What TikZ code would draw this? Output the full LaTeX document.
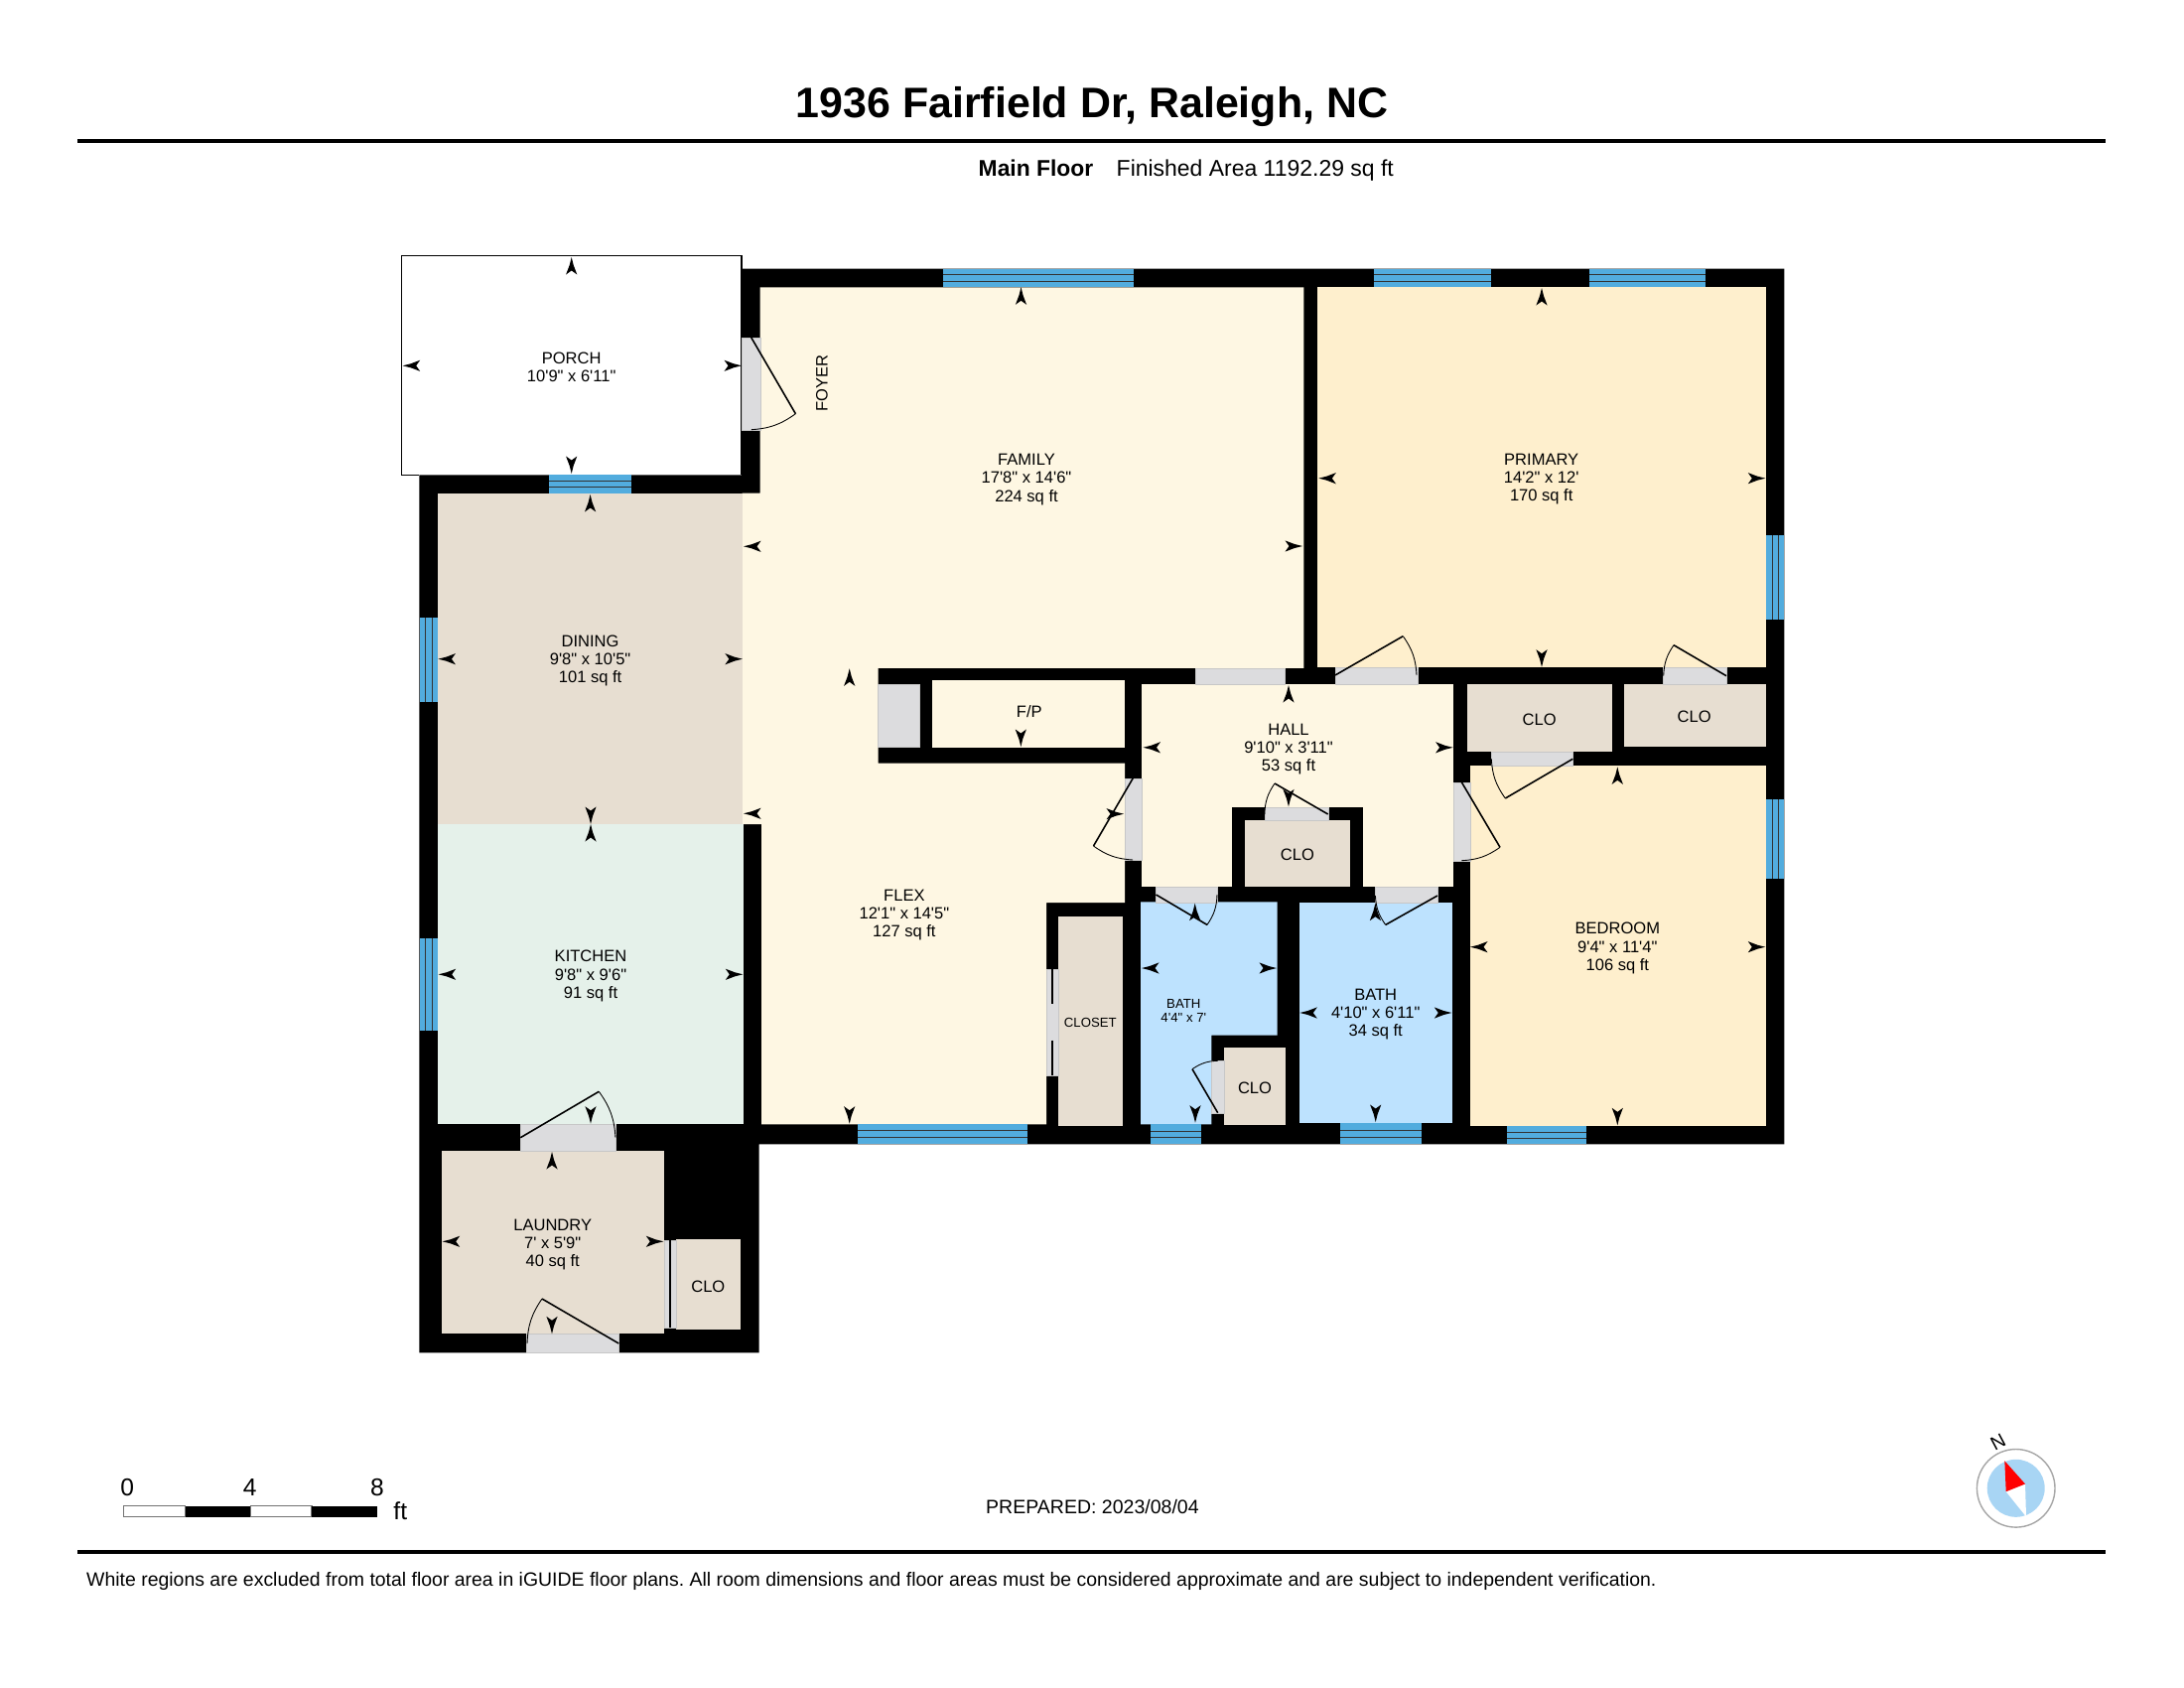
\documentclass[tikz,border=0pt]{standalone}
\usepackage{fontspec}
\newfontfamily\planfont{Liberation Sans}

\definecolor{livingFloor}{HTML}{FEF7E3}
\definecolor{bedFloor}{HTML}{FEEFCD}
\definecolor{utilFloor}{HTML}{E7DED1}
\definecolor{kitchenFloor}{HTML}{E5F1EA}
\definecolor{bathFloor}{HTML}{BDE2FE}
\definecolor{doorGrey}{HTML}{DCDCDE}
\definecolor{glassBlue}{HTML}{52ACDE}
\definecolor{compassBlue}{HTML}{A8D5F4}

\def\tipHalf{5.6}
\def\tipLong{17.5}
\def\tipNotch{13.5}

\tikzset{
    roomlabel/.style = {font = \planfont\fontsize{4.7}{5.15}\selectfont, align = center, inner sep = 0, yshift = -0.02cm},
    smalllabel/.style = {font = \planfont\fontsize{3.75}{4.2}\selectfont, align = center, inner sep = 0, yshift = -0.015cm},
    pagelabel/.style = {font = \planfont\frenchspacing\fontsize{5.55}{6.5}\selectfont, anchor = base west, inner sep = 0},
    doorgap/.style = {fill = doorGrey, draw = black!22, line width = 0.1pt},
    doorleaf/.style = {line width = 0.45pt},
    doorarc/.style = {line width = 0.25pt},
    glassline/.style = {draw = black!80, line width = 0.25pt},
}

\newcommand{\swingDoor}[4]{
    \draw [doorleaf] #1 -- #2;
    \draw [doorarc] #2 to [#4 = 16] #3;
}

\begin{document}
\begin{tikzpicture}[x = 0.01cm, y = -0.01cm]
    \useasboundingbox (0,0) rectangle (2200,1700);

    %% heading
    \node (titlename) [font = \planfont\bfseries\fontsize{12.2}{14}\selectfont, inner sep = 0] at (1100,107.5) {1936 Fairfield Dr, Raleigh, NC};
    \draw [line width = 1.15pt] (78,142) coordinate (headleft) -- (2121,142) coordinate (headright);
    \node (floorname) [font = \planfont\bfseries\fontsize{6.5}{8}\selectfont, anchor = base west, inner sep = 0] at (985,177.5) {Main Floor};
    \node (floorarea) [font = \planfont\fontsize{6.53}{8}\selectfont, anchor = base west, inner sep = 0] at (1124,177.5) {Finished Area 1192.29 sq ft};

    %% porch
    \draw [line width = 0.4pt] (422.3,478.3) -- (404.3,478.3) -- (404.3,257.3) -- (747,257.3) -- (747,478.3);

    %% wall mass
    \fill (747,270.7) -- (1797.3,270.7) -- (1797.3,1152.3) -- (764.7,1152.3)
    -- (764.7,1362.3) -- (422.3,1362.3) -- (422.3,478.3) -- (747,478.3) -- cycle;

    %% floors
    \fill [livingFloor] (765.7,289.3) -- (1313.3,289.3) -- (1313.3,672.8) -- (884.6,672.8)
    -- (884.6,768.6) -- (1133.2,768.6) -- (1133.2,909) -- (1054,909) -- (1054,1132.3)
    -- (767,1132.3) -- (767,830) -- (747.5,830) -- (747.5,496.7) -- (765.7,496.7) -- cycle;
    \fill [livingFloor] (938.6,684.8) rectangle (1133.2,752.8);
    \fill [livingFloor] (1150.2,689) rectangle (1464,893.4);
    \fill [bedFloor] (1327.3,289.3) rectangle (1779,672.3);
    \fill [bedFloor] (1480.7,771.3) rectangle (1779,1134);
    \fill [utilFloor] (441.4,496.7) rectangle (747.5,830);
    \fill [kitchenFloor] (441.4,830) rectangle (748.7,1132.3);
    \fill [utilFloor] (445,1159.3) rectangle (668.7,1343.3);
    \fill [utilFloor] (681,1248.3) rectangle (746,1339.3);
    \fill [utilFloor] (1066.3,922.7) rectangle (1131.3,1134);
    \fill [bathFloor] (1149,908.3) -- (1286.7,908.3) -- (1286.7,1042.7) -- (1220.3,1042.7)
    -- (1220.3,1132.3) -- (1149,1132.3) -- cycle;
    \fill [bathFloor] (1308.7,909) rectangle (1463,1130.7);
    \fill [utilFloor] (1233,1055) rectangle (1295,1132.7);
    \fill [utilFloor] (1477.7,689.3) rectangle (1624.3,757.3);
    \fill [utilFloor] (1636,689.3) rectangle (1779,752.3);
    %% closet in hall
    \fill (1240.8,813.4) rectangle (1372.5,893.4);
    \fill [utilFloor] (1254,826.2) rectangle (1360,893.4);

    %% door gaps
    \foreach \xa/\ya/\xb/\yb in {
        747/340/765.7/432.7,
        884.6/689/926/752,
        1203.7/672.8/1294.4/689,
        1345/672.3/1427.7/689,
        1675/672.3/1739/689,
        1133.2/783.8/1150.2/865.9,
        1464/787.7/1480.7/866.7,
        1273.8/813.4/1337.7/826.2,
        1164.5/893.4/1226/909,
        1385.4/893.4/1448/909,
        1502.3/757.3/1584.3/771.3,
        1220.3/1068.3/1233/1120.7,
        1054/975.7/1066.3/1083.3,
        524.3/1132.3/620/1159.3,
        530.3/1343.3/623.3/1362.3,
        668.7/1249.3/681/1337.3%
    } {
        \draw [doorgap] (\xa,\ya) rectangle (\xb,\yb);
    }

    %% sliding doors
    \draw [doorleaf] (1060,975.7) -- (1060,1011) (1060,1047.7) -- (1060,1083.3);
    \draw [line width = 0.5pt] (675,1249.3) -- (675,1337.3);

    %% windows along a wall
    \foreach \xa/\xb/\ya/\yb in {
        950/1142/270.7/289.3,
        1384.3/1501.7/270.7/289.3,
        1601/1718.3/270.7/289.3,
        553/636/478.3/496.7,
        864.3/1035/1132/1152.3,
        1159.3/1209.7/1132.3/1152.3,
        1350/1432.3/1131/1152.3,
        1518/1597.7/1134/1152.3%
    } {
        \fill [glassBlue] (\xa,\ya) rectangle (\xb,\yb);
        \draw [glassline] (\xa,{\ya+(\yb-\ya)/3}) -- (\xb,{\ya+(\yb-\ya)/3})
        (\xa,{\ya+2*(\yb-\ya)/3}) -- (\xb,{\ya+2*(\yb-\ya)/3});
    }
    \foreach \ya/\yb/\xa/\xb in {
        622/707.3/422.7/441.4,
        945/1038.3/422.7/441.4,
        539/624/1779/1797.3,
        805/885/1779/1797.3%
    } {
        \fill [glassBlue] (\xa,\ya) rectangle (\xb,\yb);
        \draw [glassline] ({\xa+(\xb-\xa)/3},\ya) -- ({\xa+(\xb-\xa)/3},\yb)
        ({\xa+2*(\xb-\xa)/3},\ya) -- ({\xa+2*(\xb-\xa)/3},\yb);
    }

    %% swinging doors
    \swingDoor{(756.8,340)}{(801.4,416.7)}{(756.8,432.7)}{bend left}
    \swingDoor{(1141.2,783.8)}{(1101.5,852)}{(1141.2,866)}{bend right}
    \swingDoor{(1345,680)}{(1413.3,640.7)}{(1427,680)}{bend left}
    \swingDoor{(1739,680.7)}{(1686,649.7)}{(1675.7,680.7)}{bend right}
    \swingDoor{(1337.7,820)}{(1284,789)}{(1273.8,820)}{bend right}
    \swingDoor{(1164.5,901)}{(1216,931.4)}{(1226,901)}{bend right}
    \swingDoor{(1448,902)}{(1395.7,931.4)}{(1385.4,902)}{bend left}
    \swingDoor{(1472.3,787.7)}{(1511,853.3)}{(1472.3,866.7)}{bend left}
    \swingDoor{(1584.3,764.3)}{(1516.3,804)}{(1502.3,764.3)}{bend left}
    \swingDoor{(1226.7,1120.7)}{(1201,1076.7)}{(1226.7,1068.3)}{bend left}
    \swingDoor{(524.3,1145.7)}{(603.3,1099.3)}{(620,1145.7)}{bend left}
    \swingDoor{(623.3,1353)}{(546,1308)}{(531,1353)}{bend right}

    %% measure ticks: tip up, down, left, right
    \foreach \x/\y in {575.7/259, 594.6/498, 1028.5/289.3, 1553/290, 855.7/673.3, 1298/690,
        595/830, 556/1160, 1203.7/909.7, 1385.4/909.7, 1629.3/772.3} {
        \fill (\x,\y) -- ++(2,8) -- ++({\tipHalf-2},{\tipLong-8}) -- ++(-\tipHalf,{\tipNotch-\tipLong})
        -- ++(-\tipHalf,{\tipLong-\tipNotch}) -- ++({\tipHalf-2},{8-\tipLong}) -- cycle;
    }
    \foreach \x/\y in {575.7/477, 1028.3/752, 1298/812.4, 595/830, 595/1131.7, 855.7/1131.7,
        556/1343.3, 1204/1130.7, 1385.7/1130, 1553/671.7, 1629.3/1133.3} {
        \fill (\x,\y) -- ++(2,-8) -- ++({\tipHalf-2},{8-\tipLong}) -- ++(-\tipHalf,{\tipLong-\tipNotch})
        -- ++(-\tipHalf,{\tipNotch-\tipLong}) -- ++({\tipHalf-2},{\tipLong-8}) -- cycle;
    }
    \foreach \x/\y in {405.7/368.3, 749/550.3, 441.4/663.7, 749/819.3, 441.7/981.3, 445.7/1250.3,
        1151.5/752.8, 1150/975, 1309.3/1020, 1328.3/481.7, 1481/953.7} {
        \fill (\x,\y) -- ++(8,2) -- ++({\tipLong-8},{\tipHalf-2}) -- ++({\tipNotch-\tipLong},-\tipHalf)
        -- ++({\tipLong-\tipNotch},-\tipHalf) -- ++({8-\tipLong},{\tipHalf-2}) -- cycle;
    }
    \foreach \x/\y in {747/368.3, 747.9/663.7, 748.3/981.3, 668.3/1250.3, 1132/819.7, 1312/550,
        1463.6/752.8, 1286/975, 1462.3/1020, 1778.3/481.7, 1778.3/953.7} {
        \fill (\x,\y) -- ++(-8,2) -- ++({8-\tipLong},{\tipHalf-2}) -- ++({\tipLong-\tipNotch},-\tipHalf)
        -- ++({\tipNotch-\tipLong},-\tipHalf) -- ++({\tipLong-8},{\tipHalf-2}) -- cycle;
    }

    %% room labels
    \node (porchroom) [roomlabel] at (575.7,368) {PORCH\\10'9" x 6'11"};
    \node (familyroom) [roomlabel] at (1034,481) {FAMILY\\17'8" x 14'6"\\224 sq ft};
    \node (primaryroom) [roomlabel] at (1552.7,480.7) {PRIMARY\\14'2" x 12'\\170 sq ft};
    \node (diningroom) [roomlabel] at (594.6,663.5) {DINING\\9'8" x 10'5"\\101 sq ft};
    \node (kitchenroom) [roomlabel] at (595,981) {KITCHEN\\9'8" x 9'6"\\91 sq ft};
    \node (flexroom) [roomlabel] at (910.9,919.3) {FLEX\\12'1" x 14'5"\\127 sq ft};
    \node (hallroom) [roomlabel] at (1298,752.8) {HALL\\9'10" x 3'11"\\53 sq ft};
    \node (bathroomb) [roomlabel] at (1385.7,1019.5) {BATH\\4'10" x 6'11"\\34 sq ft};
    \node (bedroomroom) [roomlabel] at (1629.3,953) {BEDROOM\\9'4" x 11'4"\\106 sq ft};
    \node (laundryroom) [roomlabel] at (556.7,1251.5) {LAUNDRY\\7' x 5'9"\\40 sq ft};
    \node (bathrooma) [smalllabel] at (1192.3,1016.5) {BATH\\4'4" x 7'};
    \node (closetroom) [smalllabel] at (1098.3,1028.3) {CLOSET};
    \node (foyerroom) [font = \planfont\fontsize{4.7}{5.15}\selectfont, inner sep = 0, rotate = 90] at (827.9,385.7) {FOYER};
    \node (fireroom) [roomlabel] at (1036.8,714.5) {F/P};
    \node (closetupa) [roomlabel] at (1550.7,723.3) {CLO};
    \node (closetupb) [roomlabel] at (1706.7,720.3) {CLO};
    \node (closethall) [roomlabel] at (1306.9,859.3) {CLO};
    \node (closetbath) [roomlabel] at (1264,1094) {CLO};
    \node (closetlaundry) [roomlabel] at (713.3,1294) {CLO};

    %% scale bar
    \draw [draw = black!55, line width = 0.3pt, fill = white] (124.3,1516.5) rectangle (186.7,1527.8);
    \fill (186.7,1516.5) rectangle (252.7,1527.8);
    \draw [draw = black!55, line width = 0.3pt, fill = white] (252.7,1516.5) rectangle (314,1527.8);
    \fill (314,1516.5) rectangle (380,1527.8);
    \node (scalezero) [font = \planfont\fontsize{7}{8}\selectfont, inner sep = 0] at (128.3,1498.3) {0};
    \node (scalefour) [font = \planfont\fontsize{7}{8}\selectfont, inner sep = 0] at (251.7,1498.3) {4};
    \node (scaleeight) [font = \planfont\fontsize{7}{8}\selectfont, inner sep = 0] at (380,1498.3) {8};
    \node (scaleunit) [font = \planfont\fontsize{7}{8}\selectfont, inner sep = 0] at (403.3,1521.5) {ft};

    %% prepared date
    \node (prepareddate) [pagelabel] at (992.5,1524) {PREPARED: 2023/08/04};

    %% compass
    \draw [draw = black!35, fill = white, line width = 0.4pt] (2030.7,1498.8) circle (39.3);
    \fill [compassBlue] (2030.7,1498.8) circle (29);
    \fill [white] (2020.7,1502.2) -- (2040,1494.5) -- (2041,1527.5) -- cycle;
    \fill [red] (2019.3,1471.2) -- (2040,1494.5) -- (2020.7,1502.2) -- cycle;
    \node (compassnorth) [font = \planfont\fontsize{5.5}{6}\selectfont, rotate = 28, inner sep = 0] at (2012.7,1452.2) {N};

    %% footer
    \draw [line width = 1.15pt] (78,1562.7) coordinate (footleft) -- (2121,1562.7) coordinate (footright);
    \node (footnote) [pagelabel, font = \planfont\frenchspacing\fontsize{5.53}{6.5}\selectfont] at (86.5,1597) {White regions are excluded from total floor area in iGUIDE floor plans. All room dimensions and floor areas must be considered approximate and are subject to independent verification.};
\end{tikzpicture}
\end{document}
